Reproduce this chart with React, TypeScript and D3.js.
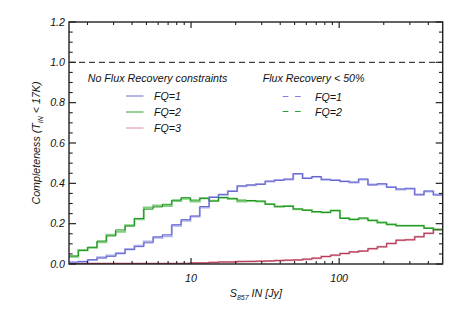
import React from "react";
import * as d3 from "d3";

// ---- data (40 log-spaced bins between 1.5 and 500 Jy) ----
const xDomain = [1.5, 500];
const nBins = 40;
const fq1 = [0.01,0.012,0.021,0.029,0.038,0.051,0.071,0.086,0.105,0.135,0.145,0.195,0.22,0.238,0.285,0.33,0.345,0.36,0.387,0.392,0.395,0.411,0.415,0.421,0.448,0.424,0.434,0.42,0.414,0.409,0.406,0.421,0.392,0.398,0.38,0.372,0.373,0.343,0.362,0.342];
const fq2 = [0.04,0.066,0.083,0.114,0.139,0.169,0.188,0.226,0.272,0.283,0.296,0.317,0.329,0.317,0.324,0.312,0.33,0.326,0.317,0.315,0.312,0.296,0.286,0.286,0.273,0.266,0.26,0.255,0.266,0.226,0.22,0.228,0.215,0.207,0.195,0.19,0.19,0.19,0.177,0.172];
const fq3 = [0.002,0.002,0.002,0.002,0.002,0.002,0.002,0.002,0.002,0.002,0.002,0.002,0.003,0.005,0.005,0.008,0.01,0.01,0.012,0.013,0.014,0.015,0.017,0.019,0.02,0.024,0.029,0.037,0.044,0.052,0.06,0.064,0.076,0.085,0.102,0.118,0.12,0.135,0.152,0.17];
const fr1 = [0.005,0.011,0.02,0.033,0.042,0.054,0.074,0.09,0.112,0.13,0.138,0.19,0.215,0.235,0.28,0.332,0.343,0.362,0.385,0.39,0.397,0.409,0.417,0.419,0.446,0.426,0.432,0.418,0.416,0.41,0.404,0.419,0.394,0.396,0.382,0.37,0.375,0.345,0.36,0.345];
const fr2 = [0.036,0.07,0.08,0.108,0.145,0.16,0.192,0.222,0.28,0.29,0.288,0.313,0.323,0.31,0.327,0.314,0.328,0.322,0.31,0.313,0.31,0.298,0.284,0.288,0.271,0.268,0.258,0.257,0.264,0.228,0.222,0.226,0.217,0.205,0.197,0.19,0.19,0.19,0.179,0.17];
const yTicks = [0, 0.2, 0.4, 0.6, 0.8, 1.0, 1.2];
const xMajor = [10, 100];
const xMinor = [2,3,4,5,6,7,8,9,20,30,40,50,60,70,80,90,200,300,400];

const W = 463, H = 309;
const M = { left: 69, right: 442.7, top: 22, bottom: 264 };
const FONT = "'Liberation Sans', Arial, sans-serif";

export default function App() {
  const x = d3.scaleLog().domain(xDomain).range([M.left, M.right]);
  const y = d3.scaleLinear().domain([0, 1.2]).range([M.bottom, M.top]);
  const lo = Math.log10(xDomain[0]), hi = Math.log10(xDomain[1]);
  const edges = d3.range(nBins + 1).map((i) => Math.pow(10, lo + (i * (hi - lo)) / nBins));
  const stepPath = (vals: number[]) => {
    const pts: [number, number][] = vals.map((v, i) => [edges[i], v]);
    pts.push([edges[nBins], vals[nBins - 1]]);
    return d3.line<[number, number]>().x((d) => x(d[0])).y((d) => y(d[1])).curve(d3.curveStepAfter)(pts) || "";
  };
  const yMinor = d3.range(0, 1.2001, 0.05).filter((v) => Math.abs((v * 5) % 1) > 0.01 && Math.abs((v * 5) % 1) < 0.99);
  const axisCol = "#222";
  const tf = { fontFamily: FONT, fontStyle: "italic", fontSize: 10.7, fill: "#111" } as const;

  return (
    <svg width={W} height={H} style={{ position: "absolute", left: 0, top: 0, background: "#fff" }}>
      <defs>
        <clipPath id="plot">
          <rect x={M.left} y={M.top} width={M.right - M.left} height={M.bottom - M.top} />
        </clipPath>
      </defs>
      {/* dashed 1.0 line */}
      <line x1={M.left} x2={M.right} y1={y(1)} y2={y(1)} stroke="#111" strokeWidth={1} strokeDasharray="6,4" />
      <g clipPath="url(#plot)" fill="none">
        <path d={stepPath(fq3)} stroke="#e0a4b2" strokeWidth={2} />
        <path d={stepPath(fr2)} stroke="#84cc84" strokeWidth={2} />
        <path d={stepPath(fr1)} stroke="#b0b0ec" strokeWidth={2} />
        <path d={stepPath(fq3)} stroke="#b02848" strokeWidth={0.9} />
        <path d={stepPath(fq2)} stroke="#0a8c0a" strokeWidth={0.9} />
        <path d={stepPath(fq1)} stroke="#5a5acc" strokeWidth={0.9} />
      </g>
      {/* axes frame */}
      <rect x={M.left} y={M.top} width={M.right - M.left} height={M.bottom - M.top} fill="none" stroke={axisCol} strokeWidth={1.4} />
      {/* y ticks */}
      {yTicks.map((t) => (
        <g key={"yt" + t}>
          <line x1={M.left} x2={M.left + 7} y1={y(t)} y2={y(t)} stroke={axisCol} strokeWidth={1.2} />
          <line x1={M.right} x2={M.right - 7} y1={y(t)} y2={y(t)} stroke={axisCol} strokeWidth={1.2} />
          <text x={M.left - 4} y={y(t) + 3.8} textAnchor="end" {...tf}>{t.toFixed(1)}</text>
        </g>
      ))}
      {yMinor.map((t) => (
        <g key={"ym" + t}>
          <line x1={M.left} x2={M.left + 3.7} y1={y(t)} y2={y(t)} stroke={axisCol} strokeWidth={1.1} />
          <line x1={M.right} x2={M.right - 3.7} y1={y(t)} y2={y(t)} stroke={axisCol} strokeWidth={1.1} />
        </g>
      ))}
      {/* x ticks */}
      {xMajor.map((t) => (
        <g key={"xt" + t}>
          <line x1={x(t)} x2={x(t)} y1={M.bottom} y2={M.bottom - 6} stroke={axisCol} strokeWidth={1.2} />
          <line x1={x(t)} x2={x(t)} y1={M.top} y2={M.top + 6} stroke={axisCol} strokeWidth={1.2} />
          <text x={x(t)} y={282} textAnchor="middle" {...tf}>{t}</text>
        </g>
      ))}
      {xMinor.map((t) => (
        <g key={"xm" + t}>
          <line x1={x(t)} x2={x(t)} y1={M.bottom} y2={M.bottom - 3} stroke={axisCol} strokeWidth={1.1} />
          <line x1={x(t)} x2={x(t)} y1={M.top} y2={M.top + 3} stroke={axisCol} strokeWidth={1.1} />
        </g>
      ))}
      {/* axis titles */}
      <text x={(M.left + M.right) / 2} y={297} textAnchor="middle" {...tf}>
        S<tspan fontSize={7} dy={3}>857</tspan><tspan dy={-3}> IN [Jy]</tspan>
      </text>
      <text transform={`translate(40,${(M.top + M.bottom) / 2}) rotate(-90)`} textAnchor="middle" {...tf}>
        Completeness (T<tspan fontSize={7} dy={3}>IN</tspan><tspan dy={-3}> &lt; 17K)</tspan>
      </text>
      {/* legend left */}
      <text x={87.7} y={81.5} {...tf}>No Flux Recovery constraints</text>
      {[
        { label: "FQ=1", col: "#6a6acc" },
        { label: "FQ=2", col: "#30a030" },
        { label: "FQ=3", col: "#dc8c9c" },
      ].map((d, i) => (
        <g key={d.label}>
          <line x1={126} x2={143.5} y1={96 + i * 16} y2={96 + i * 16} stroke={d.col} strokeWidth={1} />
          <text x={154} y={100 + i * 16} {...tf}>{d.label}</text>
        </g>
      ))}
      {/* legend right */}
      <text x={262.7} y={81.5} {...tf}>Flux Recovery &lt; 50%</text>
      {[
        { label: "FQ=1", col: "#8080e0" },
        { label: "FQ=2", col: "#30a030" },
      ].map((d, i) => (
        <g key={"r" + d.label}>
          <line x1={282.7} x2={301} y1={96.5 + i * 15} y2={96.5 + i * 15} stroke={d.col} strokeWidth={1} strokeDasharray="5.7,6.6" />
          <text x={315} y={100.5 + i * 15} {...tf}>{d.label}</text>
        </g>
      ))}
    </svg>
  );
}
